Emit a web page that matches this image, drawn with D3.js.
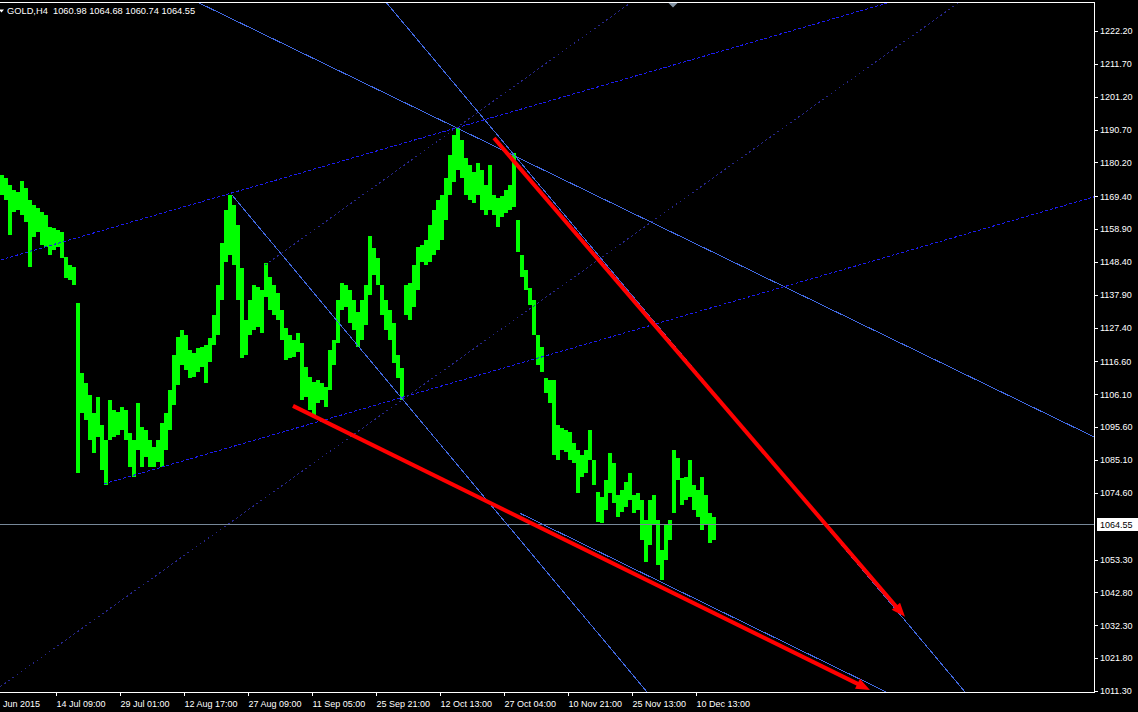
<!DOCTYPE html>
<html><head><meta charset="utf-8">
<script src="https://cdn.jsdelivr.net/npm/d3@7"></script>
<style>html,body{margin:0;padding:0;background:#000;overflow:hidden}svg{display:block}</style>
</head><body><svg id="c" width="1138" height="712"></svg>
<script>
// ---- data (GOLD, H4, aggregated bars; prices) ----
const symbol = "GOLD,H4";
const lastOHLC = [1060.98, 1064.68, 1060.74, 1064.55];
const highs = [1176.2,1175.2,1173.0,1171.4,1170.8,1174.3,1172.0,1168.2,1166.6,1165.6,
1164.4,1163.4,1159.6,1159.3,1158.6,1158.0,1150.0,1147.4,1146.8,1135.3,
1112.9,1109.7,1105.9,1100.1,1105.3,1096.3,1091.5,1104.3,1101.1,1100.5,
1102.1,1101.1,1093.8,1091.5,1103.3,1095.7,1094.7,1091.5,1089.3,1091.5,
1096.9,1100.1,1107.5,1118.7,1124.4,1126.7,1125.1,1120.3,1119.3,1120.9,
1121.2,1121.9,1124.1,1131.5,1141.0,1154.5,1165.0,1169.8,1166.6,1160.2,
1146.5,1129.9,1136.3,1141.0,1140.4,1139.5,1148.1,1143.6,1141.0,1138.5,
1133.1,1127.3,1125.1,1123.5,1125.7,1122.5,1114.8,1111.6,1110.1,1110.7,
1109.7,1108.4,1120.3,1123.5,1136.3,1141.7,1141.0,1139.5,1136.3,1132.4,
1136.3,1141.0,1156.7,1152.9,1149.7,1141.0,1136.3,1133.1,1128.9,1118.7,
1114.5,1141.0,1141.7,1147.4,1153.2,1153.8,1155.4,1160.2,1165.0,1168.2,
1169.8,1175.2,1182.6,1189.0,1191.2,1187.4,1181.6,1179.4,1177.1,1180.0,
1177.8,1173.0,1179.4,1169.8,1168.8,1169.5,1171.4,1173.0,1183.2,1161.8,
1150.6,1145.8,1140.1,1136.3,1125.1,1121.2,1111.3,1110.7,1110.7,1096.3,
1095.4,1094.7,1094.1,1090.6,1088.3,1086.7,1088.3,1094.7,1085.1,1074.9,
1073.3,1078.7,1087.4,1084.2,1073.9,1075.5,1078.1,1081.0,1073.9,1074.6,
1072.4,1066.0,1072.4,1073.9,1066.0,1056.4,1064.4,1066.0,1088.3,1085.8,
1079.4,1079.7,1085.1,1077.1,1075.5,1079.7,1073.9,1068.2,1066.9];
const lows = [1169.8,1168.2,1157.0,1164.4,1165.0,1163.4,1161.2,1146.8,1156.4,1158.0,
1153.8,1153.2,1150.6,1152.2,1153.2,1149.7,1143.3,1142.6,1141.0,1081.0,
1100.1,1097.9,1091.5,1087.4,1092.5,1081.9,1077.1,1091.5,1092.5,1093.1,
1094.7,1091.5,1082.9,1079.7,1088.3,1082.9,1086.1,1082.9,1082.9,1084.5,
1082.9,1088.3,1094.7,1102.7,1109.1,1115.5,1113.9,1111.3,1111.6,1113.3,
1114.8,1109.7,1116.4,1121.9,1125.1,1136.3,1148.4,1150.6,1147.4,1136.3,
1117.7,1118.7,1125.1,1126.7,1127.6,1125.7,1137.2,1133.1,1131.5,1129.9,
1123.5,1117.1,1117.7,1118.0,1119.6,1104.3,1105.3,1101.1,1099.5,1103.3,
1104.3,1102.1,1107.5,1115.5,1122.5,1133.1,1134.0,1128.9,1126.7,1121.2,
1123.5,1128.3,1137.9,1144.2,1141.0,1131.5,1126.7,1123.5,1116.1,1111.3,
1104.3,1131.5,1129.9,1134.0,1139.5,1148.4,1147.4,1148.4,1150.6,1152.2,
1155.4,1161.8,1169.8,1173.9,1177.8,1175.2,1169.8,1168.2,1167.2,1169.8,
1165.0,1163.4,1165.0,1163.4,1159.6,1162.8,1164.0,1165.0,1166.0,1151.6,
1143.6,1139.5,1134.7,1125.1,1115.5,1113.3,1106.5,1103.3,1086.7,1085.1,
1088.3,1087.7,1085.1,1084.2,1074.6,1079.7,1081.0,1085.1,1077.1,1065.3,
1065.0,1069.2,1074.6,1071.4,1066.9,1068.5,1070.1,1072.4,1068.2,1069.2,
1059.6,1052.5,1058.0,1064.4,1051.6,1046.8,1053.2,1059.6,1068.2,1078.7,
1070.8,1072.4,1073.3,1069.2,1066.9,1062.8,1064.4,1058.6,1059.6];
const priceTicks = [1222.20,1211.70,1201.20,1190.70,1180.20,1169.40,1158.90,1148.40,1137.90,1127.40,
1116.60,1106.10,1095.60,1085.10,1074.60,1053.30,1042.80,1032.30,1021.80,1011.30];
const timeLabels = ["Jun 2015","14 Jul 09:00","29 Jul 01:00","12 Aug 17:00","27 Aug 09:00","11 Sep 05:00",
"25 Sep 21:00","12 Oct 13:00","27 Oct 04:00","10 Nov 21:00","25 Nov 13:00","10 Dec 13:00"];
const timeIndex = [-2,14,30,46,62,78,94,110,126,142,158,174];
// trend lines: anchor A (bar index, price), anchor B (bar index, price), kind: 0 segment, 1 ray, 2 line
const trendT1 = [114.25,125,58,0,26,0,66.25,130];
const trendP1 = [1191.2,1188.0,1169.8,1149.0,1077.5,1012.6,1147.4,1068.1];
const trendT2 = [273.5,241.25,161.75,221.75,273.5,239.5,157.5,165.75];
const trendP2 = [1092.5,1011.0,1011.0,1231.1,1169.2,1231.1,1231.1,1045.8];
const trendKind = [2,2,1,2,1,2,1,1];
const trendStyle = ["solid","solid","solid","dash","dash","faint","faint","solid"];
// red arrows
const arrowT1 = [123.5,73.25], arrowP1 = [1188.0,1102.4];
const arrowT2 = [226.25,217.5], arrowP2 = [1035.0,1011.65];

// ---- drawing ----
const W=1138,H=712, R=1094.5, T=2.5, B=692.5, BAR=4;
const svg=d3.select("#c");
svg.append("rect").attr("width",W).attr("height",H).attr("fill","#000");
const x=d3.scaleLinear().domain([0,highs.length]).range([0,highs.length*BAR]);
const y=d3.scaleLinear().domain([1010.98,1231.15]).range([692,3]);
const font="'Liberation Sans', Arial, sans-serif";

svg.append("clipPath").attr("id","pc").append("rect").attr("x",0).attr("y",T).attr("width",R).attr("height",B-T);
const plot=svg.append("g").attr("clip-path","url(#pc)");

// bars
plot.append("g").selectAll("rect").data(highs).join("rect")
  .attr("x",(d,i)=>x(i)).attr("width",(d,i)=>x(i+1)-x(i))
  .attr("y",d=>y(d)).attr("height",(d,i)=>Math.max(1,y(lows[i])-y(d)))
  .attr("fill","#00ff00").attr("shape-rendering","crispEdges");

// last price line
plot.append("line").attr("x1",0).attr("x2",R).attr("y1",y(lastOHLC[3])).attr("y2",y(lastOHLC[3]))
  .attr("stroke","#778899").attr("stroke-width",1).attr("shape-rendering","crispEdges");

// trend lines
const styles={solid:{c:"#4169e1",d:null},dash:{c:"#1c1cf0",d:"3,2"},faint:{c:"#26268a",d:"2,3"}};
trendT1.forEach((t,i)=>{
  let ax=x(t), ay=y(trendP1[i]), bx=x(trendT2[i]), by=y(trendP2[i]);
  const dx=bx-ax, dy=by-ay, k=20;
  if(trendKind[i]>=1){bx=ax+dx*k;by=ay+dy*k;}
  if(trendKind[i]===2){ax=ax-dx*k;ay=ay-dy*k;}
  const s=styles[trendStyle[i]];
  plot.append("line").attr("x1",ax).attr("y1",ay).attr("x2",bx).attr("y2",by)
    .attr("stroke",s.c).attr("stroke-width",1).attr("stroke-dasharray",s.d)
    .attr("shape-rendering","crispEdges");
});

// arrows
arrowT1.forEach((t,i)=>{
  const ax=x(t), ay=y(arrowP1[i]), bx=x(arrowT2[i]), by=y(arrowP2[i]);
  const L=Math.hypot(bx-ax,by-ay), ux=(bx-ax)/L, uy=(by-ay)/L, nx=-uy, ny=ux;
  const hl=14, hw=5.5;
  const cx=bx-ux*hl, cy=by-uy*hl;
  plot.append("line").attr("x1",ax).attr("y1",ay).attr("x2",cx+ux*2).attr("y2",cy+uy*2)
    .attr("stroke","#ff0000").attr("stroke-width",4);
  plot.append("path").attr("d",`M${bx},${by}L${cx+nx*hw},${cy+ny*hw}L${cx-nx*hw},${cy-ny*hw}Z`)
    .attr("fill","#ff0000");
});

// frame
svg.append("path").attr("d",`M0,${T}H${R}V${B}H0`).attr("fill","none").attr("stroke","#fff")
  .attr("stroke-width",1).attr("shape-rendering","crispEdges");

// price axis
const pa=svg.append("g");
pa.selectAll("line").data(priceTicks).join("line")
  .attr("x1",R).attr("x2",R+3.5).attr("y1",d=>Math.round(y(d))+0.5).attr("y2",d=>Math.round(y(d))+0.5)
  .attr("stroke","#fff").attr("shape-rendering","crispEdges");
pa.selectAll("text").data(priceTicks).join("text")
  .attr("x",R+5.5).attr("y",d=>y(d)+3.3).text(d=>d.toFixed(2))
  .attr("fill","#fff").attr("font-family",font).attr("font-size","9px");

// last price label
const ly=y(lastOHLC[3]);
svg.append("rect").attr("x",R+2).attr("y",Math.round(ly)-6.5).attr("width",41).attr("height",13)
  .attr("fill","#fff").attr("shape-rendering","crispEdges");
svg.append("text").attr("x",R+5.5).attr("y",ly+3.3).text(lastOHLC[3].toFixed(2))
  .attr("fill","#000").attr("font-family",font).attr("font-size","9px");

// time axis
const ta=svg.append("g");
timeIndex.forEach((t,i)=>{
  const tx=Math.round(x(t))+0.5;
  if(tx>0) ta.append("line").attr("x1",tx).attr("x2",tx).attr("y1",B).attr("y2",B+3.5)
    .attr("stroke","#fff").attr("shape-rendering","crispEdges");
  ta.append("text").attr("x",Math.max(3,tx)).attr("y",707).text(timeLabels[i])
    .attr("fill","#fff").attr("font-family",font).attr("font-size","9px");
});

// header
svg.append("path").attr("d","M-1,9.5L4,9.5L1.5,12.5Z").attr("fill","#fff");
svg.append("text").attr("x",7).attr("y",14).attr("xml:space","preserve").style("white-space","pre")
  .text(symbol+"  "+lastOHLC.map(v=>v.toFixed(2)).join(" "))
  .attr("fill","#fff").attr("font-family",font).attr("font-size","9.3px");

// chart shift marker
svg.append("path").attr("d",`M${x(168.25)-4.5},3L${x(168.25)+4.5},3L${x(168.25)},7.5Z`).attr("fill","#8494a4");
</script></body></html>
